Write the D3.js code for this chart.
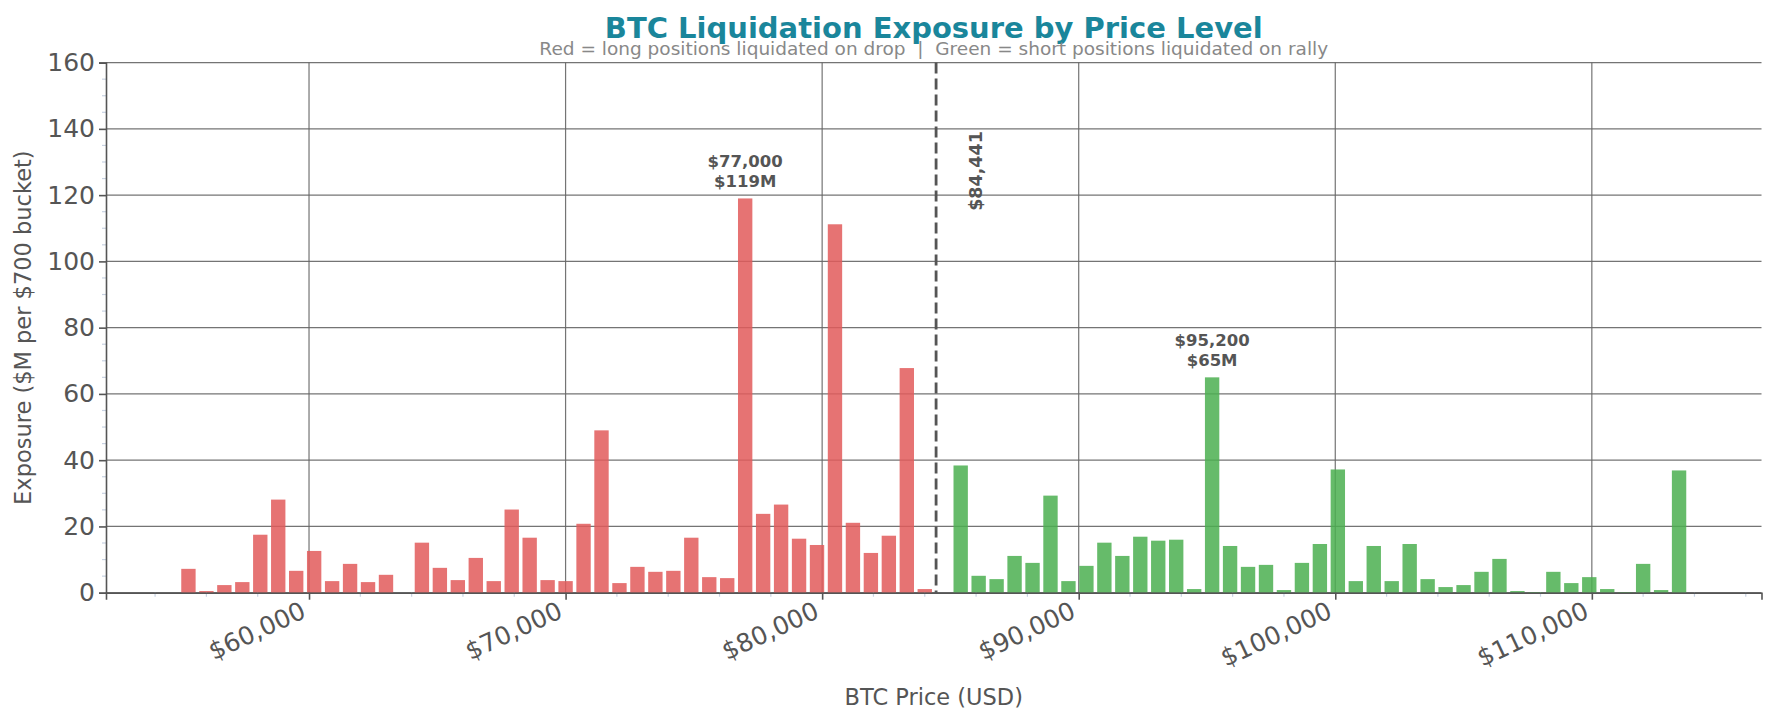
<!DOCTYPE html>
<html>
<head>
<meta charset="utf-8">
<script src="https://cdn.jsdelivr.net/npm/d3@7"></script>
<style>
  body { margin: 0; background: #fff; }
  text { font-family: "DejaVu Sans", sans-serif; }
</style>
</head>
<body>
<script>
// long liquidation buckets (below current price), $700 wide
const longPrices = [55300, 56000, 56700, 57400, 58100, 58800, 59500, 60200, 60900, 61600,
  62300, 63000, 63700, 64400, 65100, 65800, 66500, 67200, 67900, 68600,
  69300, 70000, 70700, 71400, 72100, 72800, 73500, 74200, 74900, 75600,
  76300, 77000, 77700, 78400, 79100, 79800, 80500, 81200, 81900, 82600,
  83300, 84000];
const longValues = [7.2, 0.5, 2.3, 3.2, 17.5, 28.1, 6.6, 12.6, 3.5, 8.7,
  3.2, 5.4, 0, 15.1, 7.5, 3.8, 10.5, 3.5, 25.1, 16.6,
  3.8, 3.5, 20.8, 49, 2.9, 7.8, 6.3, 6.6, 16.6, 4.7,
  4.4, 119, 23.8, 26.6, 16.3, 14.4, 111.2, 21.1, 12.0, 17.2,
  67.8, 1.1];

// short liquidation buckets (above current price)
const shortPrices = [85400, 86100, 86800, 87500, 88200, 88900, 89600, 90300, 91000, 91700,
  92400, 93100, 93800, 94500, 95200, 95900, 96600, 97300, 98000, 98700,
  99400, 100100, 100800, 101500, 102200, 102900, 103600, 104300, 105000, 105700,
  106400, 107100, 107800, 108500, 109200, 109900, 110600, 111300, 112000, 112700,
  113400];
const shortValues = [38.4, 5.1, 4.1, 11.1, 9.0, 29.3, 3.5, 8.1, 15.1, 11.1,
  16.9, 15.7, 16.0, 1.1, 65, 14.1, 7.8, 8.4, 0.8, 9.0,
  14.7, 37.2, 3.5, 14.1, 3.5, 14.7, 4.1, 1.7, 2.3, 6.3,
  10.2, 0.5, 0.2, 6.3, 2.9, 4.7, 1.1, 0.2, 8.7, 0.8,
  36.9];

const currentPrice = 84441;
const bucketSize = 700;
const xTicks = [60000, 70000, 80000, 90000, 100000, 110000];
const yTicks = [0, 20, 40, 60, 80, 100, 120, 140, 160];

const width = 1776, height = 723;
const plotLeft = 106, plotRight = 1761.5, plotTop = 62.6, plotBottom = 592.7;
const redFill = "#e25a5a", greenFill = "#4baf50";
const axisColor = "#555", gridColor = "#666";

const svg = d3.select("body").append("svg")
  .attr("width", width)
  .attr("height", height);

const x = d3.scaleLinear().domain([52087, 116613]).range([plotLeft, plotRight]);
const y = d3.scaleLinear().domain([0, 160]).range([plotBottom, plotTop]);

//grid lines
const grid = svg.append("g");
grid.selectAll(".hgrid").data(yTicks).enter().append("line")
  .attr("x1", plotLeft).attr("x2", plotRight)
  .attr("y1", d => y(d)).attr("y2", d => y(d))
  .attr("stroke", gridColor).attr("stroke-width", 1.2).attr("opacity", 0.9);
grid.selectAll(".vgrid").data(xTicks).enter().append("line")
  .attr("x1", d => x(d)).attr("x2", d => x(d))
  .attr("y1", plotTop).attr("y2", plotBottom)
  .attr("stroke", gridColor).attr("stroke-width", 1.2).attr("opacity", 0.9);

//bars
const longData = longPrices.map((p, i) => ({ price: p, value: longValues[i] }));
const shortData = shortPrices.map((p, i) => ({ price: p, value: shortValues[i] }));
const barW = bucketSize * 0.8;

function drawBars(data, fill) {
  svg.append("g").selectAll("rect")
    .data(data)
    .enter()
    .append("rect")
    .attr("x", d => x(d.price - barW / 2))
    .attr("width", d => x(d.price + barW / 2) - x(d.price - barW / 2))
    .attr("y", d => y(d.value))
    .attr("height", d => y(0) - y(d.value))
    .attr("fill", fill)
    .attr("fill-opacity", 0.85);
}
drawBars(longData, redFill);
drawBars(shortData, greenFill);

//current price line
svg.append("line")
  .attr("x1", x(currentPrice)).attr("x2", x(currentPrice))
  .attr("y1", plotTop).attr("y2", plotBottom)
  .attr("stroke", axisColor)
  .attr("stroke-width", 2.8)
  .attr("stroke-dasharray", "11,5");

svg.append("text")
  .attr("transform", "translate(" + (x(currentPrice) + 46) + ",171) rotate(-90)")
  .attr("text-anchor", "middle")
  .style("font-size", "17.5px")
  .style("font-weight", "bold")
  .attr("fill", axisColor)
  .text("$" + d3.format(",")(currentPrice));

//peak annotations
const fmtPrice = d3.format(",");
const peaks = [
  longData.reduce((a, b) => (b.value > a.value ? b : a)),
  shortData.reduce((a, b) => (b.value > a.value ? b : a))
];
peaks.forEach(function (d) {
  const t = svg.append("text")
    .attr("text-anchor", "middle")
    .style("font-size", "16.5px")
    .style("font-weight", "bold")
    .attr("fill", axisColor);
  t.append("tspan")
    .attr("x", x(d.price)).attr("y", y(d.value) - 31.5)
    .text("$" + fmtPrice(d.price));
  t.append("tspan")
    .attr("x", x(d.price)).attr("y", y(d.value) - 11.5)
    .text("$" + Math.round(d.value) + "M");
});

//minor ticks
const minorX = d3.range(54000, 116001, 2000).filter(v => v % 10000 != 0);
svg.append("g").selectAll("line").data(minorX).enter().append("line")
  .attr("x1", d => x(d)).attr("x2", d => x(d))
  .attr("y1", plotBottom).attr("y2", plotBottom + 4)
  .attr("stroke", "#c8d2e2").attr("stroke-width", 1.2);
const minorY = d3.range(5, 160, 5).filter(v => v % 20 != 0);
svg.append("g").selectAll("line").data(minorY).enter().append("line")
  .attr("x1", plotLeft - 4).attr("x2", plotLeft)
  .attr("y1", d => y(d)).attr("y2", d => y(d))
  .attr("stroke", "#c8d2e2").attr("stroke-width", 1.2);

//y axis
const yAxis = svg.append("g")
  .attr("transform", "translate(" + plotLeft + ",0)")
  .call(d3.axisLeft(y).tickValues(yTicks).tickSize(7).tickPadding(4));
yAxis.select(".domain").attr("stroke", axisColor).attr("stroke-width", 1.6);
yAxis.selectAll(".tick line").attr("stroke", axisColor).attr("stroke-width", 1.6);
yAxis.selectAll(".tick text")
  .attr("fill", axisColor)
  .style("font-size", "25px")
  .style("font-family", "DejaVu Sans");

//x axis
const xAxis = svg.append("g")
  .attr("transform", "translate(0," + plotBottom + ")")
  .call(d3.axisBottom(x).tickValues(xTicks).tickSize(7).tickFormat(d => "$" + fmtPrice(d)));
xAxis.select(".domain").attr("stroke", axisColor).attr("stroke-width", 1.6);
xAxis.selectAll(".tick line").attr("stroke", axisColor).attr("stroke-width", 1.6);
xAxis.selectAll(".tick text")
  .attr("fill", axisColor)
  .style("font-size", "25px")
  .style("font-family", "DejaVu Sans")
  .attr("text-anchor", "end")
  .attr("dy", null)
  .attr("y", 0)
  .attr("transform", "translate(-2,24) rotate(-25)");

//axis labels
svg.append("text")
  .attr("x", (plotLeft + plotRight) / 2)
  .attr("y", 705)
  .attr("text-anchor", "middle")
  .style("font-size", "22.5px")
  .attr("fill", axisColor)
  .text("BTC Price (USD)");

svg.append("text")
  .attr("transform", "translate(31," + ((plotTop + plotBottom) / 2) + ") rotate(-90)")
  .attr("text-anchor", "middle")
  .style("font-size", "22.5px")
  .attr("fill", axisColor)
  .text("Exposure ($M per $700 bucket)");

//title
svg.append("text")
  .attr("x", (plotLeft + plotRight) / 2)
  .attr("y", 37.5)
  .attr("text-anchor", "middle")
  .style("font-size", "29px")
  .style("font-weight", "bold")
  .attr("fill", "#1a869b")
  .text("BTC Liquidation Exposure by Price Level");

svg.append("text")
  .attr("x", (plotLeft + plotRight) / 2)
  .attr("y", 55)
  .attr("text-anchor", "middle")
  .style("font-size", "18.5px")
  .style("white-space", "pre")
  .attr("fill", "#888")
  .text("Red = long positions liquidated on drop  |  Green = short positions liquidated on rally");
</script>
</body>
</html>
